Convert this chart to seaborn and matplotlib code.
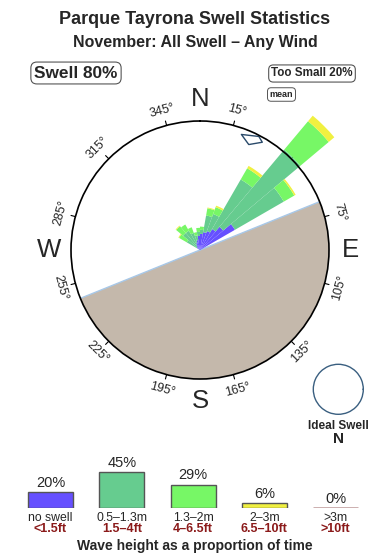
import numpy as np
import pandas as pd
import matplotlib
matplotlib.use("Agg")
import matplotlib.pyplot as plt
import seaborn as sns
from matplotlib.path import Path

# ---------------- data ----------------
directions = [305, 315, 325, 335, 345, 355, 5, 15, 25, 35, 45, 55]
seg_noswell = [0.4, 0.5, 0.75, 1.0, 1.25, 1.75, 2.0, 2.25, 2.5, 3.0, 3.75, 5.0]
seg_small = [1.5, 2.25, 2.0, 1.25, 0.6, 0.5, 0.5, 2.1, 2.25, 7.1, 12.5, 7.0]
seg_mid = [1.1, 1.1, 0.9, 0.75, 0.4, 0.5, 0.4, 0.9, 0.9, 1.6, 4.6, 1.5]
seg_big = [0.1, 0.1, 0.0, 0.0, 0.0, 0.0, 0.0, 0.1, 0.2, 0.35, 0.9, 0.2]

size_labels = ["no swell", "0.5\u20131.3m", "1.3\u20132m", "2\u20133m", ">3m"]
size_feet = ["<1.5ft", "1.5\u20134ft", "4\u20136.5ft", "6.5\u201310ft", ">10ft"]
size_pct = [20, 45, 29, 6, 0]
size_colors = ["#6650ff", "#66cc8f", "#77f766", "#f0f040", "#c8a8a8"]

deg_ticks = [15, 45, 75, 105, 135, 165, 195, 225, 255, 285, 315, 345]
compass = ["N", "E", "S", "W"]
compass_deg = [0, 90, 180, 270]

land_from, land_to = 68, 248
mean_dir = 25
swell_pct = 80
too_small_pct = 20
RMAX = 16.0

title = "Parque Tayrona Swell Statistics"
subtitle = "November: All Swell \u2013 Any Wind"

# ---------------- style ----------------
sns.set_theme(style="white")
plt.rcParams["font.family"] = ["Liberation Sans", "DejaVu Sans"]

W, H = 390, 560
fig = plt.figure(figsize=(W / 100, H / 100), dpi=100)
fig.patch.set_facecolor("white")


def fx(px):
    return px / W


def fy(py):
    return 1 - py / H


# ---------------- rose ----------------
cx, cy, rad = 200, 250, 129
ax = fig.add_axes([fx(cx - rad), fy(cy + rad), 2 * rad / W, 2 * rad / H], projection="polar")
ax.set_theta_zero_location("N")
ax.set_theta_direction(-1)
ax.set_ylim(0, RMAX)
ax.set_xticks([])
ax.set_yticks([])
ax.grid(False)
ax.set_facecolor("white")
ax.spines["polar"].set_color("black")
ax.spines["polar"].set_linewidth(1.2)
ax.spines["polar"].set_zorder(4)

# land sector
ax.bar(np.deg2rad((land_from + land_to) / 2), RMAX, width=np.deg2rad(land_to - land_from),
       color="#c4b8ab", edgecolor="none", zorder=2)
for d in (land_from, land_to):
    ax.plot([np.deg2rad(d)] * 2, [0, RMAX], color="#a8c8e8", lw=1.0, zorder=2.5)

theta = np.deg2rad(directions)
bottom = np.zeros(len(directions))
for seg, col in zip([seg_noswell, seg_small, seg_mid, seg_big], size_colors[:4]):
    seg = np.array(seg)
    ax.bar(theta, seg, width=np.deg2rad(10), bottom=bottom, color=col,
           edgecolor="none", zorder=3, clip_on=False, linewidth=0)
    bottom = bottom + seg

# ticks & degree labels
for d in deg_ticks:
    th = np.deg2rad(d)
    ax.plot([th, th], [RMAX, RMAX * 1.035], color="black", lw=0.8, clip_on=False, zorder=1)
    rot = ((-d + 90) % 180) - 90
    ax.text(th, RMAX * 1.12, f"{d}\u00b0", rotation=rot, rotation_mode="anchor",
            ha="center", va="center", fontsize=9, clip_on=False, zorder=1)

for lab, d in zip(compass, compass_deg):
    ax.text(np.deg2rad(d), RMAX * 1.17, lab, ha="center", va="center",
            fontsize=18.5, clip_on=False, zorder=1)

# mean direction marker
mverts = np.array([[-11, 5], [-3.7, -5], [9.7, -2.7], [6.3, 3], [-11, 5]], dtype=float)
marker = Path(mverts, [Path.MOVETO, Path.LINETO, Path.LINETO, Path.LINETO, Path.CLOSEPOLY])
ax.plot([np.deg2rad(mean_dir)], [RMAX * 0.95], marker=marker, markersize=16,
        markerfacecolor="white", markeredgecolor="#2a4a6a", markeredgewidth=1.0,
        linestyle="none", zorder=3.5)

# ---------------- titles & boxes ----------------
fig.text(0.5, fy(20), title, ha="center", va="center", fontsize=13, fontweight="bold")
fig.text(0.5, fy(42), subtitle, ha="center", va="center", fontsize=11.5, fontweight="bold")
fig.text(fx(76), fy(73), f"Swell {swell_pct}%", ha="center", va="center", fontsize=12.4,
         fontweight="bold",
         bbox=dict(boxstyle="round,pad=0.2,rounding_size=0.35", fc="white", ec="#555555", lw=0.8))
fig.text(fx(312), fy(73.5), f"Too Small {too_small_pct}%", ha="center", va="center",
         fontsize=8.4, fontweight="bold",
         bbox=dict(boxstyle="round,pad=0.22,rounding_size=0.4", fc="white", ec="#555555", lw=0.8))
fig.text(fx(281.5), fy(94.5), "mean", ha="center", va="center", fontsize=6.5, fontweight="bold",
         bbox=dict(boxstyle="round,pad=0.25,rounding_size=0.4", fc="white", ec="#555555", lw=0.7))

# ---------------- ideal swell ----------------
icx, icy, ir = 338.3, 389.3, 25
iax = fig.add_axes([fx(icx - ir), fy(icy + ir), 2 * ir / W, 2 * ir / H], projection="polar")
iax.set_xticks([])
iax.set_yticks([])
iax.grid(False)
iax.spines["polar"].set_color("#3a5f80")
iax.spines["polar"].set_linewidth(1.0)
fig.text(fx(icx), fy(425.7), "Ideal Swell", ha="center", va="center", fontsize=8.5, fontweight="bold")
fig.text(fx(icx), fy(439), "N", ha="center", va="center", fontsize=11, fontweight="bold")

# ---------------- size legend ----------------
step = 71.3
lleft = 50.5 - step / 2
lbottom = 507.7
lax = fig.add_axes([fx(lleft), fy(lbottom), 5 * step / W, 100 / H])
df = pd.DataFrame({"size": size_labels, "pct": size_pct})
sns.barplot(data=df, x="size", y="pct", hue="size", palette=size_colors, width=0.63,
            saturation=1, edgecolor="#555555", linewidth=1.0, legend=False, ax=lax)
lax.set_xlim(-0.5, 4.5)
lax.set_ylim(0, 125)
lax.axis("off")
for p in lax.patches:
    if p.get_height() == 0:
        p.set_edgecolor(size_colors[-1])
        p.set_linewidth(2)
for i, (p, lab, ft) in enumerate(zip(size_pct, size_labels, size_feet)):
    lax.annotate(f"{p}%", (i, p), xytext=(0, 6.5), textcoords="offset points",
                 ha="center", va="center", fontsize=10.5, annotation_clip=False)
    lax.annotate(lab, (i, 0), xytext=(0, -7.4), textcoords="offset points",
                 ha="center", va="center", fontsize=8.8, annotation_clip=False)
    lax.annotate(ft, (i, 0), xytext=(0, -15.3), textcoords="offset points",
                 ha="center", va="center", fontsize=9, fontweight="bold",
                 color="#8b1a1a", annotation_clip=False)
fig.text(fx(195), fy(545.7), "Wave height as a proportion of time", ha="center", va="center",
         fontsize=10, fontweight="bold")

fig.savefig("out.png", dpi=100, facecolor="white")
